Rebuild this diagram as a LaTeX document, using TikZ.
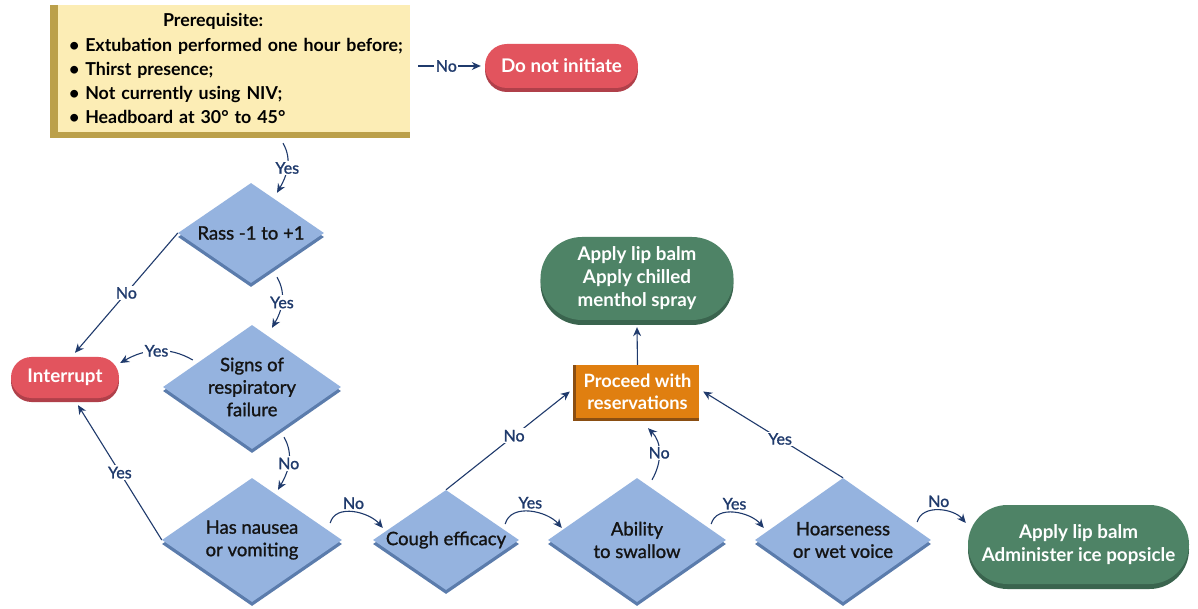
\documentclass[tikz,border=0pt]{standalone}
\usepackage{fontspec}
\setmainfont{Lato}
\newfontfamily\medfont{Lato}[FakeBold=1.2]
\usetikzlibrary{shapes.geometric,shapes.misc,shadows,arrows.meta,calc,backgrounds}
\definecolor{diafill}{HTML}{95B3DF}
\definecolor{diashade}{HTML}{5B7CAC}
\definecolor{redfill}{HTML}{E2545E}
\definecolor{redshade}{HTML}{B0404A}
\definecolor{greenfill}{HTML}{4E8366}
\definecolor{greenshade}{HTML}{3A644E}
\definecolor{orangefill}{HTML}{E07F10}
\definecolor{orangeshade}{HTML}{8A4E12}
\definecolor{yellowfill}{HTML}{FCEDB5}
\definecolor{goldshade}{HTML}{BBA04A}
\definecolor{navy}{HTML}{1F3A6C}
\begin{document}
\begin{tikzpicture}[x=1pt,y=1pt,
  dia/.style={diamond, aspect=1.45, inner sep=-6pt, fill=diafill, general shadow={fill=diashade, shadow yshift=-4pt}, align=center, text=black!92, font=\medfont\fontsize{18.5}{22.5}\selectfont},
  pill/.style={rounded rectangle, inner sep=-2pt, text=white, align=center, font=\bfseries\fontsize{18.8}{23}\selectfont},
  redpill/.style={pill, fill=redfill, general shadow={fill=redshade, shadow yshift=-4pt}},
  greenpill/.style={pill, fill=greenfill, general shadow={fill=greenshade, shadow yshift=-5pt}},
  conn/.style={draw=navy, line width=1.1pt, -{Stealth[length=9pt,width=8pt]}},
  lab/.style={fill=white, inner sep=1.5pt, text=navy, font=\medfont\fontsize{16}{16}\selectfont},
  arclab/.style={above=1pt, text=navy, inner sep=1.5pt, font=\medfont\fontsize{16}{16}\selectfont}
]
\path[use as bounding box] (0,0) rectangle (1198,608);

\node[rectangle, fill=yellowfill, minimum width=352pt, minimum height=127pt, text width=340pt, align=left, inner sep=0pt, font=\bfseries\fontsize{17.8}{24}\selectfont] (pre) at (234,539.5)
 {\hspace*{99pt}Prerequisite:\\[1pt]
  \hspace*{5pt}\textbullet\ Extubation performed one hour before;\\
  \hspace*{5pt}\textbullet\ Thirst presence;\\
  \hspace*{5pt}\textbullet\ Not currently using NIV;\\
  \hspace*{5pt}\textbullet\ Headboard at 30° to 45°};

\node[dia, minimum width=146pt, minimum height=100pt] (rass) at (251,375) {Rass -1 to +1};
\node[dia, minimum width=178pt, minimum height=124pt] (signs) at (252,221) {Signs of\\respiratory\\failure};
\node[dia, minimum width=180pt, minimum height=124pt] (naus) at (252,68) {Has nausea\\or vomiting};
\node[dia, minimum width=146pt, minimum height=100pt] (cough) at (446,68) {Cough efficacy};
\node[dia, minimum width=178pt, minimum height=124pt] (abil) at (637,68) {Ability\\to swallow};
\node[dia, minimum width=176pt, minimum height=124pt] (hoarse) at (843,68) {Hoarseness\\or wet voice};

\node[redpill, minimum width=149pt, minimum height=44pt] (donot) at (561.5,542) {Do not initiate};
\node[redpill, minimum width=104pt, minimum height=41pt] (interrupt) at (65,230.5) {Interrupt};
\node[greenpill, minimum width=189pt, minimum height=83pt] (gtop) at (637,329.5) {Apply lip balm\\Apply chilled\\menthol spray};
\node[greenpill, minimum width=217pt, minimum height=79pt] (gbot) at (1078.5,63.5) {Apply lip balm\\Administer ice popsicle};
\node[rectangle, fill=orangefill, minimum width=123pt, minimum height=53pt, inner sep=0pt, text=white, align=center, font=\bfseries\fontsize{18.3}{22}\selectfont] (proc) at (637.5,216.5) {Proceed with\\reservations};

\draw[conn] ([shift={(49pt,-11pt)}]pre.south) to[out=-60,in=60] node[lab]{Yes} ([shift={(26pt,-10pt)}]rass.north);
\draw[conn] (rass.west) -- node[lab]{No} ([shift={(10pt,4pt)}]interrupt.north);
\draw[conn] ([shift={(26pt,6pt)}]rass.south) to[out=-60,in=60] node[lab]{Yes} ([shift={(20pt,-3pt)}]signs.north);
\draw[conn] ([shift={(30pt,27pt)}]signs.west) to[out=150,in=30] node[lab]{Yes} ([shift={(1pt,14.5pt)}]interrupt.east);
\draw[conn] (naus.west) -- node[lab]{Yes} ([shift={(13pt,-7pt)}]interrupt.south);
\draw[conn] ([shift={(32pt,12pt)}]signs.south) to[out=-60,in=60] node[lab]{No} ([shift={(26pt,-12pt)}]naus.north);
\draw[conn] ([shift={(-12pt,17pt)}]naus.east) to[out=75,in=130] node[arclab]{No} ([shift={(10pt,12pt)}]cough.west);
\draw[conn] (cough.north) -- node[lab,pos=0.55]{No} ([xshift=-6pt]proc.west);
\draw[conn] ([shift={(-14pt,16pt)}]cough.east) to[out=75,in=130] node[arclab]{Yes} ([shift={(14pt,12pt)}]abil.west);
\draw[conn] ([shift={(15pt,-2pt)}]abil.north) to[out=60,in=-45] node[lab]{No} ([shift={(10.5pt,-10pt)}]proc.south);
\draw[conn] ([shift={(-15pt,16pt)}]abil.east) to[out=75,in=130] node[arclab]{Yes} ([shift={(9pt,12pt)}]hoarse.west);
\draw[conn] (hoarse.north) -- node[lab,pos=0.45]{Yes} ([xshift=4pt]proc.east);
\draw[conn] ([shift={(-14pt,18pt)}]hoarse.east) to[out=75,in=130] node[arclab]{No} ([shift={(-2pt,21.5pt)}]gbot.west);
\draw[conn] (proc.north) -- ([yshift=-7pt]gtop.south);
\draw[conn] ($(pre.east |- donot.west)+(8pt,0)$) -- node[lab,pos=0.45]{No} ([xshift=-4pt]donot.west);

\begin{scope}[on background layer]
\fill[white] (0,0) rectangle (1198,608);
\fill[goldshade] ([xshift=-8pt]pre.north west) rectangle ([yshift=-6pt]pre.south east);
\fill[orangeshade] ([xshift=-3pt]proc.north west) rectangle ([yshift=-3pt]proc.south east);
\end{scope}
\end{tikzpicture}
\end{document}
